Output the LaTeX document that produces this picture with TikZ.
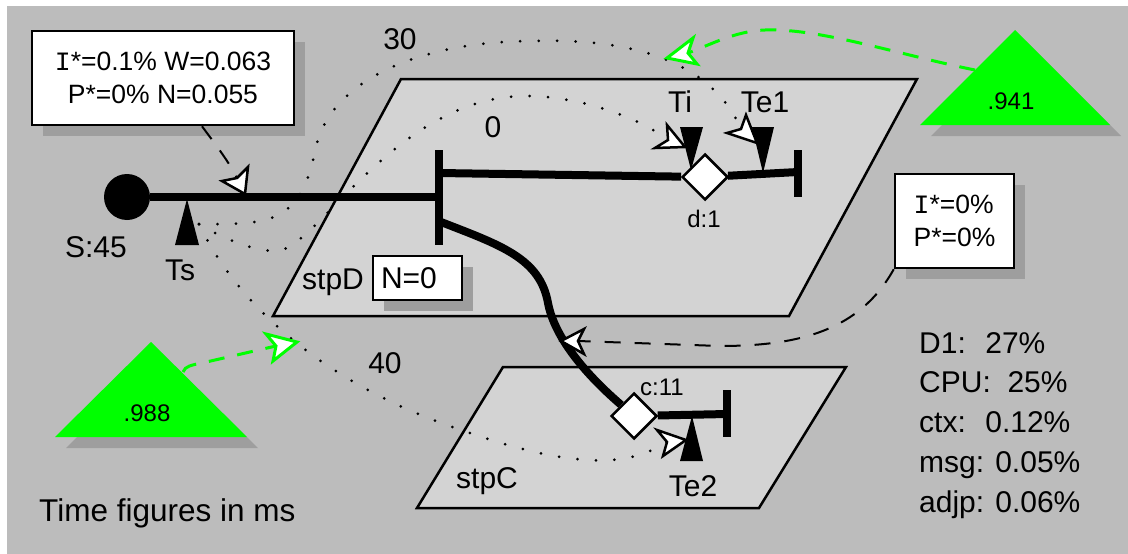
\documentclass[tikz,border=0pt]{standalone}
\usepackage{fontspec}
\setmainfont{Liberation Sans}
\setmonofont{Liberation Mono}
\usetikzlibrary{shapes.geometric,shadows}
\definecolor{bgc}{RGB}{188,188,188}
\definecolor{planec}{RGB}{211,211,211}
\definecolor{shadec}{RGB}{158,158,158}
\definecolor{grn}{RGB}{0,255,0}
\begin{document}
\begin{tikzpicture}[x=1pt,y=-1pt,
  lab/.style={anchor=base,inner sep=0pt,font=\fontsize{30}{36}\selectfont},
  slab/.style={anchor=base,inner sep=0pt,font=\fontsize{24}{29}\selectfont},
  stat/.style={anchor=base west,inner sep=0pt,font=\fontsize{30}{36}\selectfont},
  planest/.style={draw=black,fill=planec,line width=2.5pt},
  box/.style={draw=black,fill=white,line width=2.5pt,inner sep=0pt,
    drop shadow={shadow xshift=11pt,shadow yshift=-11pt,fill=shadec,opacity=1}},
  wire/.style={line width=8pt},
  barst/.style={line width=8pt},
  dia/.style={diamond,draw=black,fill=white,line width=2.5pt,minimum width=46pt,minimum height=46pt,inner sep=0pt},
  dotline/.style={line width=3pt,line cap=round,dash pattern=on 0pt off 18.5pt},
  dashline/.style={line width=2pt,dash pattern=on 16pt off 14pt},
  gdash/.style={draw=grn,line width=3pt,dash pattern=on 16pt off 13pt},
  whead/.style={draw=black,fill=white,line width=2.5pt,line join=miter},
  ghead/.style={draw=grn,fill=white,line width=3pt,line join=miter},
  gtri/.style={fill=grn},
  gshadow/.style={fill=shadec},
  calltext/.style={font=\fontsize{26.5}{33.4}\selectfont},
]
\fill[white] (0,0) rectangle (1128,554);
\useasboundingbox (0,0) rectangle (1128,554);
\fill[bgc] (7,6) rectangle (1128,554);

% planes
\draw[planest] (401,79) -- (917,79) -- (789,316) -- (273,316) -- cycle;
\draw[planest] (503,367) -- (846,367) -- (759,508) -- (417,508) -- cycle;

% green triangles
\fill[gshadow] (1026,41) -- (1121,136) -- (931,136) -- cycle;
\fill[gtri] (1015,30) -- (1110,125) -- (920,125) -- cycle;
\node[slab] (p941) at (1011,109) {.941};
\fill[gshadow] (162,353) -- (258,448) -- (66,448) -- cycle;
\fill[gtri] (151,342) -- (247,437) -- (55,437) -- cycle;
\node[slab] (p988) at (147,421) {.988};

% callouts
\node[box,calltext,align=center,minimum width=262pt,minimum height=94pt] (c1) at (163,78) {\texttt{I}*=0.1\% W=0.063\\P*=0\% N=0.055};
\node[box,calltext,align=left,minimum width=119pt,minimum height=94pt] (c2) at (954.5,221) {\texttt{I}*=0\%\\P*=0\%};
\node[box,font=\fontsize{30}{36}\selectfont,align=left,text width=73pt,inner xsep=8pt,minimum height=44pt] (nbox) at (417.5,278) {N=0};

% network
\node[circle,fill=black,minimum size=46pt,inner sep=0pt] (src) at (127,197) {};
\coordinate (j1) at (439,197);
\coordinate (b1t) at (439,150); \coordinate (b1b) at (439,245);
\coordinate (u1) at (439,173);
\coordinate (l1) at (441,222);
\node[dia] (d1) at (705,177) {};
\coordinate (e1) at (798,172); \coordinate (b2t) at (798,150); \coordinate (b2b) at (798,197);
\node[dia] (c11) at (634,416) {};
\coordinate (e2) at (727,414); \coordinate (b3t) at (727,390); \coordinate (b3b) at (727,437);

\draw[wire] (src) -- (j1);
\draw[barst] (b1t) -- (b1b);
\draw[wire] (u1) -- (d1);
\draw[wire] (d1) -- (e1);
\draw[barst] (b2t) -- (b2b);
\draw[wire] (l1) .. controls (500,245) and (540,258) .. (548,303) .. controls (553,330) and (575,365) .. (c11);
\draw[wire] (c11) -- (e2);
\draw[barst] (b3t) -- (b3b);

% markers
\fill (187,199) -- (199,245) -- (175,245) -- cycle;
\fill (680,127) -- (703,127) -- (691,170) -- cycle;
\fill (752,127) -- (774,127) -- (763,173) -- cycle;
\fill (692,416) -- (703,461) -- (680,461) -- cycle;

% arrowhead geometry (tip, corners, notch)
\coordinate (te1tip) at (757,143); \coordinate (te1a) at (746,115); \coordinate (te1b) at (727,133); \coordinate (te1n) at (741,129);
\coordinate (titip) at (685,147); \coordinate (tia) at (667,125); \coordinate (tib) at (655,148); \coordinate (tin) at (668,140);
\coordinate (te2tip) at (686,440); \coordinate (te2a) at (657,430); \coordinate (te2b) at (663,456); \coordinate (te2n) at (667,442);
\coordinate (ca1) at (245,194); \coordinate (ca1a) at (248,167); \coordinate (ca1b) at (222,181); \coordinate (ca1n) at (237,178);
\coordinate (ca2) at (561,341); \coordinate (ca2a) at (584,329); \coordinate (ca2b) at (584,354); \coordinate (ca2n) at (578,341);
\coordinate (g1t) at (667,58); \coordinate (g1a) at (693,38); \coordinate (g1b) at (697,64); \coordinate (g1n) at (688,53);
\coordinate (g2t) at (297,342); \coordinate (g2a) at (266,334); \coordinate (g2b) at (273,361); \coordinate (g2n) at (276,346);

% dotted timing curves
\coordinate (ts) at (199,224);
\draw[dotline] (ts) .. controls (265,224) and (300,227) .. (315,151) .. controls (330,75) and (430,41) .. (533,41) .. controls (690,36) and (728,100) .. (te1n);
\draw[dotline] (ts) .. controls (225,240) and (255,251) .. (276,251) .. controls (315,252) and (395,96) .. (526,96) .. controls (580,96) and (640,118) .. (tin);
\draw[dotline] (ts) .. controls (235,300) and (320,385) .. (470,433) .. controls (590,474) and (635,462) .. (te2n);
\draw[whead] (te1tip) -- (te1a) -- (te1n) -- (te1b) -- cycle;
\draw[whead] (titip) -- (tia) -- (tin) -- (tib) -- cycle;
\draw[whead] (te2tip) -- (te2a) -- (te2n) -- (te2b) -- cycle;

% callout connectors
\draw[dashline] ([xshift=39pt]c1.south) .. controls (212,140) and (228,160) .. (ca1n);
\draw[whead] (ca1) -- (ca1a) -- (ca1n) -- (ca1b) -- cycle;
\draw[dashline] (c2.south west) .. controls (860,330) and (800,346) .. (720,346) -- (ca2n);
\draw[whead] (ca2) -- (ca2a) -- (ca2n) -- (ca2b) -- cycle;

% green connectors
\coordinate (g1s) at (975,70);
\coordinate (g2s) at (183,372);
\draw[gdash] (g1s) .. controls (900,55) and (820,28) .. (765,30) .. controls (735,31) and (710,45) .. (g1n);
\draw[ghead] (g1t) -- (g1a) -- (g1n) -- (g1b) -- cycle;
\draw[gdash] (g2s) .. controls (185,366) and (192,365) .. (202,363) -- (g2n);
\draw[ghead] (g2t) -- (g2a) -- (g2n) -- (g2b) -- cycle;

% labels
\node[lab] (l30) at (400,49) {30};
\node[lab] (l0) at (493,137) {0};
\node[lab] (lti) at (680,112) {Ti};
\node[lab] (lte1) at (765,112) {Te1};
\node[slab] (ld1) at (704,227) {d:1};
\node[lab] (ls45) at (96,257) {S:45};
\node[lab] (lts) at (180,280) {Ts};
\node[lab] (lstpd) at (333,289) {stpD};
\node[lab] (l40) at (385,373) {40};
\node[slab] (lc11) at (662,395) {c:11};
\node[lab] (lte2) at (693,496) {Te2};
\node[lab] (lstpc) at (487,488) {stpC};
\node[stat,font=\fontsize{31.5}{36}\selectfont] (tfig) at (39,521) {Time figures in ms};
\node[stat] (s1) at (919,353) {D1: \ 27\%};
\node[stat] (s2) at (919,392) {CPU: \ 25\%};
\node[stat] (s3) at (919,432) {ctx: \ 0.12\%};
\node[stat] (s4) at (919,472) {msg: 0.05\%};
\node[stat] (s5) at (919,512) {adjp: 0.06\%};
\end{tikzpicture}
\end{document}
